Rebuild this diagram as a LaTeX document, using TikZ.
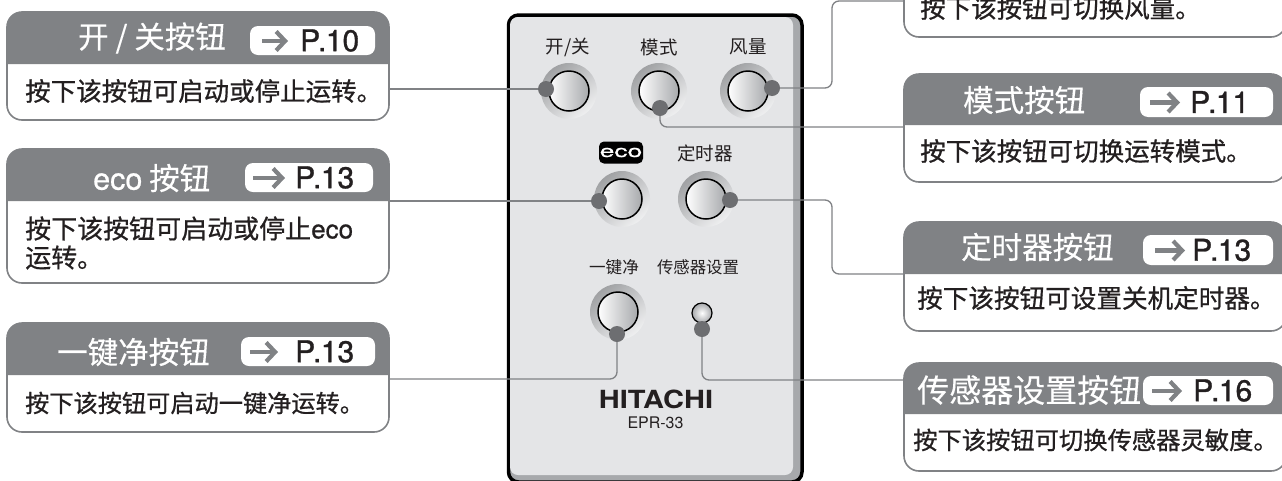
\documentclass[tikz,border=0pt]{standalone}
\usepackage{fontspec}
\usetikzlibrary{arrows.meta}
\setmainfont{Noto Sans CJK SC}
\newfontfamily\cjkf[FakeBold=0.7]{Noto Sans CJK SC}
\newfontfamily\cjkl[FakeBold=0.3]{Noto Sans CJK SC}
\newfontfamily\cjkr{Noto Sans CJK SC}
\newfontfamily\heros{TeX Gyre Heros}
\newfontfamily\herosm[FakeBold=0.7]{TeX Gyre Heros}
\newfontfamily\herosp[FakeBold=1.0]{TeX Gyre Heros}
\newfontfamily\herosb{TeX Gyre Heros Bold}
\definecolor{hdr}{HTML}{808285}
\definecolor{dotc}{HTML}{6D6E71}
\definecolor{panel}{HTML}{E4E5E7}
\definecolor{band}{HTML}{A7A9AC}
\definecolor{ink}{HTML}{231F20}
\tikzset{
  boxbody/.style={draw=hdr,line width=1.6pt,fill=white,rounded corners=15pt},
  bodytext/.style={anchor=west,inner sep=0pt,text=ink,font=\cjkf},
  headtext/.style={anchor=west,inner sep=0pt,text=white,font=\cjkl\fontsize{30.5}{32}\selectfont},
  pillbox/.style={fill=white,draw=none,rounded corners=8pt},
  pilltext/.style={anchor=west,inner sep=0pt,text=ink,font=\herosp\fontsize{30}{32}\selectfont},
  pillarrow/.style={draw=hdr,line width=4.6pt,-{Straight Barb[length=9pt,width=19pt,line width=4.2pt]}},
  conn/.style={draw=hdr,line width=1.3pt,rounded corners=7pt},
  dotmark/.style={circle,fill=dotc,minimum size=16pt,inner sep=0pt},
  ring/.style={circle,minimum size=56pt,inner sep=0pt,top color=hdr!75!white,bottom color=panel!60!white,shading angle=40},
  knob/.style={circle,minimum size=40pt,inner sep=0pt,left color=white,middle color=white!94!band,right color=band,draw=black,line width=1.5pt},
  rlabel/.style={inner sep=0pt,text=ink,font=\cjkr\fontsize{18.5}{20}\selectfont},
}
% #1 name, #2 x0, #3 x1, #4 top, #5 header bottom, #6 bottom
\newcommand{\callout}[6]{%
  \draw[boxbody] (#2,#4) rectangle (#3,#6);
  \fill[hdr,rounded corners=15pt] (#2,#5) -- (#2,#4) -- (#3,#4) -- (#3,#5);
  \coordinate (#1) at (#2,#5);
}
% #1 name, #2 x0, #3 x1, #4 top, #5 bottom, #6 arrow start, #7 arrow end, #8 text x, #9 text
\newcommand{\pagepill}[9]{%
  \fill[pillbox] (#2,#4) rectangle (#3,#5);
  \coordinate (#1a) at (#6,{(#4+#5)/2+0.5});
  \coordinate (#1b) at (#7,{(#4+#5)/2+0.5});
  \draw[pillarrow] (#1a) -- (#1b);
  \node[pilltext] (#1t) at (#8,{(#4+#5)/2}) {#9};
}
\newcommand{\Pn}{P\kern-0.07em.\kern-0.02em}
\begin{document}
\begin{tikzpicture}[x=1pt,y=-1pt]
\clip (0,0) rectangle (1282,480);
\fill[white] (0,0) rectangle (1282,480);

% remote body
\draw[draw=black,line width=3.5pt,fill=band,rounded corners=10pt] (508.5,15) rectangle (802,482);
\fill[panel,rounded corners=8pt] (510,17) rectangle (793,475);

% connector end points
\coordinate (pa) at (389,89);
\coordinate (pb) at (389,201);
\coordinate (pc) at (389,379);
\coordinate (pd) at (904,1);
\coordinate (pe) at (904,127);
\coordinate (pf) at (904,274);
\coordinate (pg) at (904,380);
\coordinate (bd) at (832,88);
\coordinate (bd2) at (832,1);
\coordinate (be) at (660,127);
\coordinate (bf) at (832,200);
\coordinate (bf2) at (832,274);
\coordinate (bc) at (617,379);
\coordinate (bg) at (702,380);

% buttons
\node[ring] (ra) at (569,91) {}; \node[knob] (ka) at (569,91) {};
\node[ring] (rb) at (659,91) {}; \node[knob] (kb) at (659,91) {};
\node[ring] (rc) at (748,91) {}; \node[knob] (kc) at (748,91) {};
\node[ring] (rd) at (622,199) {}; \node[knob] (kd) at (622,199) {};
\node[ring] (re) at (706,199) {}; \node[knob] (ke) at (706,199) {};
\node[ring] (rf) at (618,312) {}; \node[knob] (kf) at (618,312) {};
\node[circle,minimum size=20pt,inner sep=0pt,inner color=white,outer color=band,draw=black,line width=1.2pt] (kg) at (702,313) {};

% connectors
\node[dotmark] (da) at (546,89) {};
\node[dotmark] (db) at (660,108) {};
\node[dotmark] (dc) at (772,88) {};
\node[dotmark] (dd) at (599,201) {};
\node[dotmark] (de) at (730,200) {};
\node[dotmark] (df) at (617,334) {};
\node[dotmark] (dg) at (702,329) {};
\draw[conn] (pa) -- (da.west);
\draw[conn] (db.south) -- (be) -- (pe);
\draw[conn] (dc.east) -- (bd) -- (bd2) -- (pd);
\draw[conn] (pb) -- (dd.west);
\draw[conn] (de.east) -- (bf) -- (bf2) -- (pf);
\draw[conn] (pc) -- (bc) -- (df.south);
\draw[conn] (dg.south) -- (bg) -- (pg);

% remote labels
\node[rlabel] (la) at (568,47) {开/关};
\node[rlabel] (lb) at (659,47) {模式};
\node[rlabel] (lc) at (748,47) {风量};
\node[fill=black,text=white,rounded corners=5pt,minimum width=44pt,minimum height=22pt,inner sep=0pt,font=\herosm\fontsize{17}{17}\selectfont] (ld) at (621,152.5) {\scalebox{1.55}[1]{eco}};
\node[rlabel] (le) at (705,153) {定时器};
\node[rlabel,font=\cjkr\fontsize{16.6}{18}\selectfont] (lf) at (614,267) {一键净};
\node[rlabel,font=\cjkr\fontsize{16.4}{18}\selectfont] (lg) at (698,267) {传感器设置};
\node[inner sep=0pt,text=ink,font=\herosb\fontsize{25}{26}\selectfont] (hit) at (656,399) {\scalebox{1.16}[1]{HITACHI}};
\node[inner sep=0pt,text=ink,font=\heros\fontsize{16}{18}\selectfont] (mod) at (655.5,423) {EPR-33};

% left callouts
\callout{ba}{7}{389}{12}{64}{120}
\node[headtext] (ha) at (78,38) {开 / 关按钮};
\pagepill{pa1}{250}{375}{26}{55}{262}{288}{300}{\Pn 10}
\node[bodytext,font=\cjkf\fontsize{25.5}{27}\selectfont] (ta) at (25,91) {按下该按钮可启动或停止运转。};

\callout{bb}{7}{389}{149}{201}{283}
\node[headtext] (hb) at (93,178) {{\herosm eco} 按钮};
\pagepill{pb1}{245}{373}{163}{192}{253}{285}{295}{\Pn 13}
\node[bodytext,font=\cjkf\fontsize{26}{27}\selectfont,align=left] (tb) at (25,243) {按下该按钮可启动或停止{\herosm eco}\\[2pt]运转。};

\callout{bc1}{7}{389}{323}{375}{432}
\node[headtext] (hc) at (57,352) {一键净按钮};
\pagepill{pc1}{241}{375}{337}{366}{250}{278}{295}{\Pn 13}
\node[bodytext,font=\cjkf\fontsize{24.2}{27}\selectfont] (tc) at (25,403) {按下该按钮可启动一键净运转。};

% right callouts
\callout{bd1}{904}{1286}{-33}{-19}{37}
\node[bodytext,font=\cjkf\fontsize{25.5}{27}\selectfont] (td) at (920,8) {按下该按钮可切换风量。};

\callout{be1}{904}{1286}{74}{125}{182}
\node[headtext] (he) at (963,100) {模式按钮};
\pagepill{pe1}{1140}{1273}{87}{117}{1150}{1180}{1190}{\Pn 11}
\node[bodytext,font=\cjkf\fontsize{25.5}{27}\selectfont] (te) at (920,151) {按下该按钮可切换运转模式。};

\callout{bf1}{904}{1286}{222}{274}{331}
\node[headtext] (hf) at (961,247) {定时器按钮};
\pagepill{pf1}{1143}{1273}{235}{265}{1155}{1185}{1192}{\Pn 13}
\node[bodytext,font=\cjkf\fontsize{25.6}{27}\selectfont] (tf) at (917,298) {按下该按钮可设置关机定时器。};

\callout{bg1}{904}{1286}{363}{414}{471}
\node[headtext,font=\cjkl\fontsize{32}{34}\selectfont] (hg) at (917,390) {传感器设置按钮};
\pagepill{pg1}{1143}{1273}{376}{405}{1152}{1182}{1193}{\Pn 16}
\node[bodytext,font=\cjkf\fontsize{24.3}{27}\selectfont] (tg) at (913,440) {按下该按钮可切换传感器灵敏度。};
\end{tikzpicture}
\end{document}
